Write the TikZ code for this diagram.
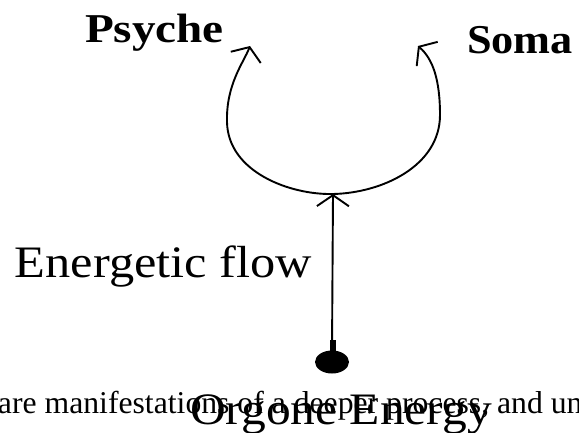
\documentclass[tikz,border=0pt]{standalone}
\usepackage{fontspec}
\setmainfont{Liberation Serif}
\usetikzlibrary{arrows.meta,shapes.geometric}
\tikzset{
  lbl/.style={inner sep=0pt, outer sep=0pt, anchor=base west},
  flowline/.style={line width=1.9pt, line cap=round, line join=round,
    -{Straight Barb[length=11pt,width=32pt,line width=1.9pt]}},
}
\begin{document}
\begin{tikzpicture}[x=1pt,y=-1pt]
\useasboundingbox (0,0) rectangle (579,432);
% labels
\node[lbl] (psyche) at (85,42) {\fontsize{41}{41}\selectfont\bfseries\scalebox{1.15}[1]{Psyche}};
\node[lbl] (soma) at (467,53) {\fontsize{41}{41}\selectfont\bfseries\scalebox{1.08}[1]{Soma}};
\node[lbl] (flow) at (15,277) {\fontsize{45}{45}\selectfont\scalebox{1.12}[1]{Energetic flow}};
% source dot
\node[ellipse, fill=black, minimum width=34pt, minimum height=23pt, inner sep=0pt] (dot) at (332,362) {};
\fill (329.5,340) rectangle (335.5,354);
% junction and tips
\coordinate (junc) at (333,194);
\coordinate (ltip) at (250,46);
\coordinate (rtip) at (418,46);
% arrows
\draw[flowline] (dot.north) -- (junc);
\draw[flowline] (junc) .. controls (290,195) and (228,172) .. (227,122)
   .. controls (226,84) and (244,62) .. (ltip);
\draw[flowline] (junc) .. controls (382,193) and (440,166) .. (440,115)
   .. controls (440,80) and (433,59) .. (rtip);
% overlapping text from the scanned page
\node[lbl] (bodytext) at (-2,413) {\fontsize{31.7}{31.7}\selectfont are manifestations of a deeper process, and un};
\node[lbl] (orgone) at (190,424) {\fontsize{45}{45}\selectfont\scalebox{1.1}[1]{Orgone Energy}};
\end{tikzpicture}
\end{document}
